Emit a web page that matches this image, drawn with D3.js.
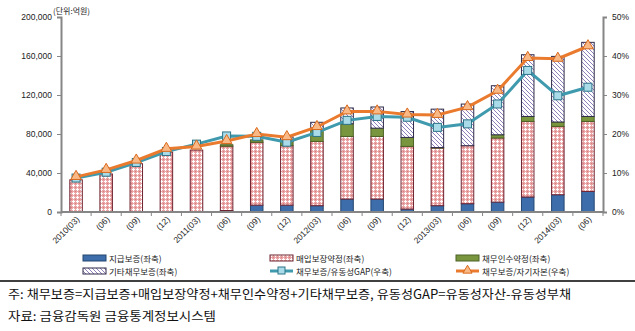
<!DOCTYPE html>
<html>
<head>
<meta charset="utf-8">
<script src="https://cdn.jsdelivr.net/npm/d3@7"></script>
<style>
  body { margin: 0; background: #fff; }
  svg { display: block; font-family: "Noto Sans CJK KR", "Liberation Sans", sans-serif; }
</style>
</head>
<body>
<div id="chart"></div>
<script>
// categories (quarter ends)
const periods = ["2010(03)", "(06)", "(09)", "(12)", "2011(03)", "(06)", "(09)", "(12)",
  "2012(03)", "(06)", "(09)", "(12)", "2013(03)", "(06)", "(09)", "(12)", "2014(03)", "(06)"];

// left axis, 억원
const payGuarantee   = [0, 0, 0, 0, 0, 1500, 7000, 7000, 6500, 13300, 13300, 3000, 6500, 8500, 10200, 15400, 17700, 21100];
const purchaseAgree  = [33000, 39000, 49500, 61500, 63500, 66000, 64500, 61000, 65900, 64200, 64200, 64300, 59100, 59500, 65700, 77500, 70100, 71800];
const debtAssume     = [0, 0, 0, 0, 0, 1500, 2500, 4500, 12000, 13000, 8500, 9200, 500, 0, 3300, 5100, 4500, 5100];
const otherGuarantee = [0, 0, 0, 0, 0, 0, 0, 4500, 7600, 16200, 21700, 26500, 39400, 42700, 50300, 63300, 67300, 76000];

// right axis, %
const gapRatio    = [8.7, 10.2, 12.7, 15.5, 17.4, 19.5, 19.4, 17.9, 20.4, 23.5, 24.5, 24.3, 21.7, 22.6, 27.7, 36.3, 29.8, 32.0];
const equityRatio = [9.0, 10.8, 13.2, 16.2, 16.8, 18.2, 20.0, 19.2, 21.8, 25.8, 25.8, 25.0, 24.9, 26.9, 31.1, 39.5, 39.3, 42.5];

const leftTicks = [0, 40000, 80000, 120000, 160000, 200000];
const rightTicks = [0, 10, 20, 30, 40, 50];

const stackKeys = ["pay", "purchase", "assume", "other"];
const stackNames = {
  pay: "지급보증(좌축)", purchase: "매입보장약정(좌축)",
  assume: "채무인수약정(좌축)", other: "기타채무보증(좌축)"
};

const W = 635, H = 331;
const plot = { left: 61, right: 603, top: 17, bottom: 212 };

const svg = d3.select("#chart").append("svg")
  .attr("width", W).attr("height", H);

// patterns
const defs = svg.append("defs");
const pDots = defs.append("pattern").attr("id", "pinkPat")
  .attr("width", 4).attr("height", 4).attr("patternUnits", "userSpaceOnUse");
pDots.append("rect").attr("width", 4).attr("height", 4).attr("fill", "#eaa6a6");
pDots.append("rect").attr("x", 1).attr("y", 0).attr("width", 1).attr("height", 3).attr("fill", "#fff");
pDots.append("rect").attr("x", 0).attr("y", 1).attr("width", 3).attr("height", 1).attr("fill", "#fff");
pDots.append("rect").attr("x", 3).attr("y", 3).attr("width", 1).attr("height", 1).attr("fill", "#d77e7e");

const pHatch = defs.append("pattern").attr("id", "hatchPat")
  .attr("width", 4).attr("height", 4).attr("patternUnits", "userSpaceOnUse");
pHatch.append("rect").attr("width", 4).attr("height", 4).attr("fill", "#fff");
pHatch.append("path").attr("d", "M-1,-1 L5,5 M-1,3 L1,5 M3,-1 L5,1")
  .attr("stroke", "#9080bc").attr("stroke-width", 1);

const fills = { pay: "#3d6dab", purchase: "url(#pinkPat)", assume: "#79963e", other: "url(#hatchPat)" };
const strokes = { pay: "#24466f", purchase: "#6e2230", assume: "#4d6226", other: "#2e2a48" };

const data = periods.map((p, i) => ({
  i, p, pay: payGuarantee[i], purchase: purchaseAgree[i], assume: debtAssume[i], other: otherGuarantee[i]
}));

const x = d3.scaleBand().domain(d3.range(periods.length)).range([plot.left, plot.right]);
const yL = d3.scaleLinear().domain([0, 200000]).range([plot.bottom, plot.top]);
const yR = d3.scaleLinear().domain([0, 50]).range([plot.bottom, plot.top]);

const barW = 12.5;
const stack = d3.stack().keys(stackKeys)(data);

svg.append("g").selectAll("g").data(stack).join("g")
  .attr("fill", d => fills[d.key])
  .attr("stroke", d => strokes[d.key])
  .attr("stroke-width", 1)
  .selectAll("rect").data(d => d.filter(s => s[1] - s[0] > 0)).join("rect")
  .attr("x", d => x(d.data.i) + x.bandwidth() / 2 - barW / 2)
  .attr("width", barW)
  .attr("y", d => yL(d[1]))
  .attr("height", d => yL(d[0]) - yL(d[1]));

// axes
const axisColor = "#868686";
const gL = svg.append("g").attr("transform", `translate(${plot.left},0)`)
  .call(d3.axisLeft(yL).tickValues(leftTicks).tickSize(4).tickPadding(5).tickFormat(d3.format(",")));
const gR = svg.append("g").attr("transform", `translate(${plot.right},0)`)
  .call(d3.axisRight(yR).tickValues(rightTicks).tickSize(4).tickPadding(5).tickFormat(d => d + "%"));
[gL, gR].forEach(g => {
  g.select(".domain").attr("stroke", axisColor).attr("stroke-width", 2);
  g.selectAll(".tick line").attr("stroke", axisColor);
  g.selectAll(".tick text").attr("fill", "#222").style("font-size", "8.5px")
    .style("font-family", "'Liberation Sans', sans-serif");
});

const gX = svg.append("g").attr("transform", `translate(0,${plot.bottom})`);
gX.append("line").attr("x1", plot.left).attr("x2", plot.right)
  .attr("stroke", axisColor).attr("stroke-width", 2);
gX.selectAll("line.tk").data(d3.range(periods.length + 1)).join("line")
  .attr("class", "tk")
  .attr("x1", d => plot.left + d * x.step()).attr("x2", d => plot.left + d * x.step())
  .attr("y1", 0).attr("y2", 4).attr("stroke", axisColor);
gX.selectAll("text").data(periods).join("text")
  .attr("transform", (d, i) => `translate(${x(i) + x.bandwidth() / 2 + 4},${8}) rotate(-45)`)
  .attr("text-anchor", "end")
  .attr("fill", "#222")
  .style("font-size", "8.5px")
  .style("font-family", "'Liberation Sans', sans-serif")
  .text(d => d);

svg.append("text").attr("x", 53).attr("y", 14)
  .style("font-size", "8px").attr("fill", "#222").text("(단위:억원)");

// lines
const cx = i => x(i) + x.bandwidth() / 2;
const gapColor = "#3f9aae", eqColor = "#ea7b2e";

svg.append("path").datum(gapRatio)
  .attr("fill", "none").attr("stroke", gapColor).attr("stroke-width", 3)
  .attr("d", d3.line().x((d, i) => cx(i)).y(d => yR(d)));
svg.append("g").selectAll("rect").data(gapRatio).join("rect")
  .attr("x", (d, i) => cx(i) - 4).attr("y", d => yR(d) - 4)
  .attr("width", 8).attr("height", 8)
  .attr("fill", "#a9dbe9").attr("stroke", "#2d7487").attr("stroke-width", 1);

svg.append("path").datum(equityRatio)
  .attr("fill", "none").attr("stroke", eqColor).attr("stroke-width", 3)
  .attr("d", d3.line().x((d, i) => cx(i)).y(d => yR(d)));
const tri = d3.symbol().type(d3.symbolTriangle).size(48);
svg.append("g").selectAll("path").data(equityRatio).join("path")
  .attr("transform", (d, i) => `translate(${cx(i)},${yR(d) - 0.5})`)
  .attr("d", tri)
  .attr("fill", "#f9b987").attr("stroke", "#d9691c").attr("stroke-width", 1);

// legend
const legend = svg.append("g").style("font-size", "8.5px");
const legCols = [83, 270, 456];
const legRows = [258, 271];
const legItems = [
  { type: "bar", key: "pay", name: stackNames.pay },
  { type: "bar", key: "purchase", name: stackNames.purchase },
  { type: "bar", key: "assume", name: stackNames.assume },
  { type: "bar", key: "other", name: stackNames.other },
  { type: "gap", name: "채무보증/유동성GAP(우축)" },
  { type: "eq", name: "채무보증/자기자본(우축)" }
];
legItems.forEach((it, k) => {
  const lx = legCols[k % 3], ly = legRows[Math.floor(k / 3)];
  const g = legend.append("g").attr("transform", `translate(${lx},${ly})`);
  if (it.type === "bar") {
    g.append("rect").attr("x", 0).attr("y", -3).attr("width", 23).attr("height", 6)
      .attr("fill", fills[it.key]).attr("stroke", strokes[it.key]).attr("stroke-width", 1);
  } else if (it.type === "gap") {
    g.append("line").attr("x1", 0).attr("x2", 23).attr("stroke", gapColor).attr("stroke-width", 3);
    g.append("rect").attr("x", 8).attr("y", -4).attr("width", 7).attr("height", 7)
      .attr("fill", "#a9dbe9").attr("stroke", "#2d7487");
  } else {
    g.append("line").attr("x1", 0).attr("x2", 23).attr("stroke", eqColor).attr("stroke-width", 3);
    g.append("path").attr("transform", "translate(11.5,-0.5)").attr("d", d3.symbol().type(d3.symbolTriangle).size(36))
      .attr("fill", "#f9b987").attr("stroke", "#d9691c");
  }
  g.append("text").attr("x", 26).attr("y", 3.5).attr("fill", "#222").text(it.name);
});

// footnote
svg.append("line").attr("x1", 0).attr("x2", W).attr("y1", 281).attr("y2", 281)
  .attr("stroke", "#000").attr("stroke-width", 1.5);
svg.append("text").attr("x", 8).attr("y", 299).style("font-size", "12.5px").attr("fill", "#111")
  .attr("textLength", 563).attr("lengthAdjust", "spacingAndGlyphs")
  .text("주: 채무보증=지급보증+매입보장약정+채무인수약정+기타채무보증, 유동성GAP=유동성자산-유동성부채");
svg.append("text").attr("x", 8).attr("y", 321).style("font-size", "12.5px").attr("fill", "#111")
  .attr("textLength", 208).attr("lengthAdjust", "spacingAndGlyphs")
  .text("자료: 금융감독원 금융통계정보시스템");
</script>
</body>
</html>
